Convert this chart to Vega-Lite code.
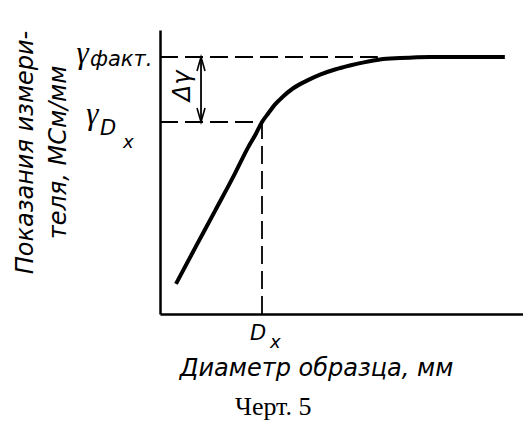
{
  "$schema": "https://vega.github.io/schema/vega-lite/v6.json",
  "width": 363,
  "height": 284,
  "autosize": "none",
  "padding": {"left": 160, "top": 30, "right": 0, "bottom": 107},
  "background": "white",
  "config": {"view": {"stroke": null}, "font": "DejaVu Sans"},
  "title": {
    "text": "Черт. 5",
    "orient": "bottom",
    "anchor": "start",
    "frame": "group",
    "dx": 75,
    "offset": 14,
    "font": "Liberation Serif",
    "fontSize": 26,
    "fontWeight": "normal",
    "color": "black"
  },
  "datasets": {
    "curve": [
      {"x": 4.4, "y": 10.6},
      {"x": 9.6, "y": 23.1},
      {"x": 15.2, "y": 36.4},
      {"x": 20.7, "y": 49.6},
      {"x": 24.2, "y": 58.5},
      {"x": 26.4, "y": 63.4},
      {"x": 28.1, "y": 67.6},
      {"x": 29.8, "y": 70.6},
      {"x": 31.7, "y": 73.8},
      {"x": 33.9, "y": 76.6},
      {"x": 36.6, "y": 79.4},
      {"x": 40.2, "y": 82.0},
      {"x": 44.1, "y": 84.3},
      {"x": 48.2, "y": 86.1},
      {"x": 52.3, "y": 87.5},
      {"x": 56.5, "y": 88.7},
      {"x": 60.6, "y": 89.6},
      {"x": 66.1, "y": 90.1},
      {"x": 74.4, "y": 90.5},
      {"x": 95.0, "y": 90.5}
    ],
    "guides": [
      {"x": 0, "x2": 60, "y": 90.5, "y2": 90.5},
      {"x": 0, "x2": 28.1, "y": 67.6, "y2": 67.6},
      {"x": 28.1, "x2": 28.1, "y": 0, "y2": 67.6}
    ],
    "arrow": [{"x": 11.3, "x2": 11.3, "y": 67.6, "y2": 90.5}],
    "heads": [
      {"x": 11.3, "y": 90.5, "dir": "up"},
      {"x": 11.3, "y": 67.6, "dir": "down"}
    ],
    "gammas": [
      {"x": -21.3, "y": 88.4, "t": "γ"},
      {"x": -18.6, "y": 66.9, "t": "γ"}
    ],
    "labels": [
      {"x": -19.3, "y": 87.3, "t": "факт."},
      {"x": -16.5, "y": 63.0, "t": "D"},
      {"x": 24.8, "y": -9.2, "t": "D"}
    ],
    "subs": [
      {"x": -10.2, "y": 58.5, "t": "x"},
      {"x": 30.3, "y": -12.0, "t": "x"}
    ],
    "delta": [{"x": 6.3, "y": 80.3, "t": "Δγ"}]
  },
  "encoding": {
    "x": {
      "field": "x",
      "type": "quantitative",
      "scale": {"domain": [0, 100], "nice": false, "zero": false},
      "axis": {
        "domainColor": "black",
        "domainWidth": 2.5,
        "ticks": false,
        "labels": false,
        "grid": false,
        "title": "Диаметр образца, мм",
        "titleFont": "DejaVu Sans",
        "titleFontStyle": "italic",
        "titleFontWeight": "normal",
        "titleFontSize": 24,
        "titleColor": "black",
        "titleX": 156,
        "titleY": 61,
        "titleAlign": "center",
        "titleBaseline": "alphabetic"
      }
    },
    "y": {
      "field": "y",
      "type": "quantitative",
      "scale": {"domain": [0, 100], "nice": false, "zero": false},
      "axis": {
        "domainColor": "black",
        "domainWidth": 2.5,
        "ticks": false,
        "labels": false,
        "grid": false,
        "title": ["Показания измери-", "теля, МСм/мм"],
        "titleFont": "DejaVu Sans",
        "titleFontStyle": "italic",
        "titleFontWeight": "normal",
        "titleFontSize": 24,
        "titleColor": "black",
        "titleLineHeight": 33,
        "titleAngle": 270,
        "titleX": -134.5,
        "titleY": 122,
        "titleAlign": "center",
        "titleBaseline": "middle"
      }
    }
  },
  "layer": [
    {
      "data": {"name": "guides"},
      "mark": {"type": "rule", "color": "black", "strokeWidth": 1.8, "strokeDash": [18, 7]},
      "encoding": {"x2": {"field": "x2"}, "y2": {"field": "y2"}}
    },
    {
      "data": {"name": "arrow"},
      "mark": {"type": "rule", "color": "black", "strokeWidth": 1.8},
      "encoding": {"x2": {"field": "x2"}, "y2": {"field": "y2"}}
    },
    {
      "data": {"name": "heads"},
      "mark": {"type": "point", "filled": false, "color": "black", "strokeWidth": 1.6, "size": 64, "opacity": 1},
      "encoding": {
        "shape": {
          "field": "dir",
          "type": "nominal",
          "scale": {"domain": ["up", "down"], "range": ["M-1,3.5L0,0L1,3.5", "M-1,-3.5L0,0L1,-3.5"]},
          "legend": null
        }
      }
    },
    {
      "data": {"name": "curve"},
      "mark": {"type": "line", "color": "black", "strokeWidth": 4, "interpolate": "monotone"}
    },
    {
      "data": {"name": "gammas"},
      "mark": {"type": "text", "font": "Liberation Serif", "fontStyle": "italic", "fontSize": 31, "align": "center", "baseline": "alphabetic", "color": "black"},
      "encoding": {"text": {"field": "t"}}
    },
    {
      "data": {"name": "labels"},
      "mark": {"type": "text", "font": "DejaVu Sans", "fontStyle": "italic", "fontSize": 21, "align": "left", "baseline": "alphabetic", "color": "black"},
      "encoding": {"text": {"field": "t"}}
    },
    {
      "data": {"name": "subs"},
      "mark": {"type": "text", "font": "DejaVu Sans", "fontStyle": "italic", "fontSize": 18, "align": "left", "baseline": "alphabetic", "color": "black"},
      "encoding": {"text": {"field": "t"}}
    },
    {
      "data": {"name": "delta"},
      "mark": {"type": "text", "font": "DejaVu Sans", "fontStyle": "italic", "fontSize": 24, "angle": 270, "align": "center", "baseline": "middle", "color": "black"},
      "encoding": {"text": {"field": "t"}}
    }
  ]
}
